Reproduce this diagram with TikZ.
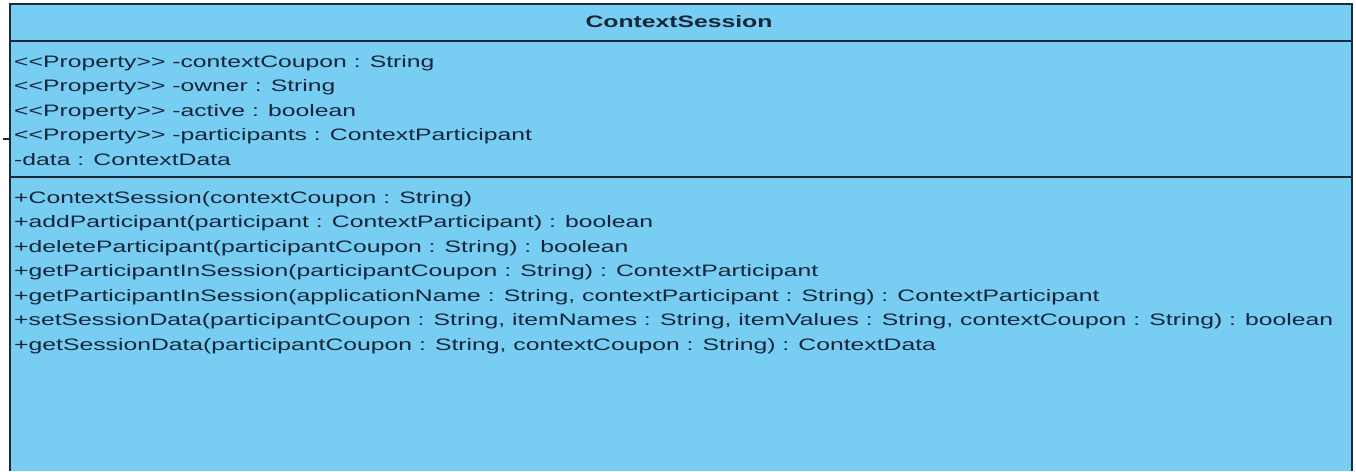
\documentclass[tikz,border=0pt]{standalone}
\usepackage{fontspec}
\setmainfont{Liberation Sans}[FakeStretch=1.49]
\definecolor{classfill}{HTML}{77CDF2}
\definecolor{classline}{HTML}{1B2A3A}
\definecolor{classtext}{HTML}{16263A}
% guillemet-free double angle brackets
\newcommand\dlt{<\kern0pt<}
\newcommand\dgt{>\kern0pt>}
\begin{document}
\begin{tikzpicture}[x=1pt,y=-1pt,
  member/.style={anchor=west,inner sep=0pt,text=classtext,font=\fontsize{16.6}{18}\selectfont,text height=12pt,text depth=3.5pt},
  title/.style={inner sep=0pt,text=classtext,font=\fontsize{16.6}{18}\selectfont\bfseries,text height=12pt,text depth=3.5pt},
  divider/.style={classline,line width=1.6pt}]
\useasboundingbox (0,0) rectangle (1356,471);
% class body, open at the bottom
\fill[classfill] (10,4) rectangle (1352,471);
\draw[classline,line width=1.6pt] (10,471) -- (10,4) -- (1352,4) -- (1352,471);
\node[inner sep=0pt,minimum width=1342pt,minimum height=467pt,anchor=north west] (cls) at (10,4) {};
% compartment dividers
\draw[divider] (10,41) -- (1352,41);
\draw[divider] (10,177) -- (1352,177);
% name compartment
\node[title] (name) at (679,23) {ContextSession};
% attributes
\node[member] (a1) at (14,63) {\dlt Property\dgt{} -contextCoupon : String};
\node[member] (a2) at (14,87.5) {\dlt Property\dgt{} -owner : String};
\node[member] (a3) at (14,112) {\dlt Property\dgt{} -active : boolean};
\node[member] (a4) at (14,136.5) {\dlt Property\dgt{} -participants : ContextParticipant};
\node[member] (a5) at (14,161) {-data : ContextData};
% operations
\node[member] (o1) at (14,199) {+ContextSession(contextCoupon : String)};
\node[member] (o2) at (14,223.5) {+addParticipant(participant : ContextParticipant) : boolean};
\node[member] (o3) at (14,248) {+deleteParticipant(participantCoupon : String) : boolean};
\node[member] (o4) at (14,272.5) {+getParticipantInSession(participantCoupon : String) : ContextParticipant};
\node[member] (o5) at (14,297) {+getParticipantInSession(applicationName : String, contextParticipant : String) : ContextParticipant};
\node[member] (o6) at (14,321.5) {+setSessionData(participantCoupon : String, itemNames : String, itemValues : String, contextCoupon : String) : boolean};
\node[member] (o7) at (14,346) {+getSessionData(participantCoupon : String, contextCoupon : String) : ContextData};
% stub of an incoming association on the left side
\coordinate (stub) at (3,139);
\draw[classline,line width=2.4pt] (stub) -- (stub -| cls.west);
\end{tikzpicture}
\end{document}
